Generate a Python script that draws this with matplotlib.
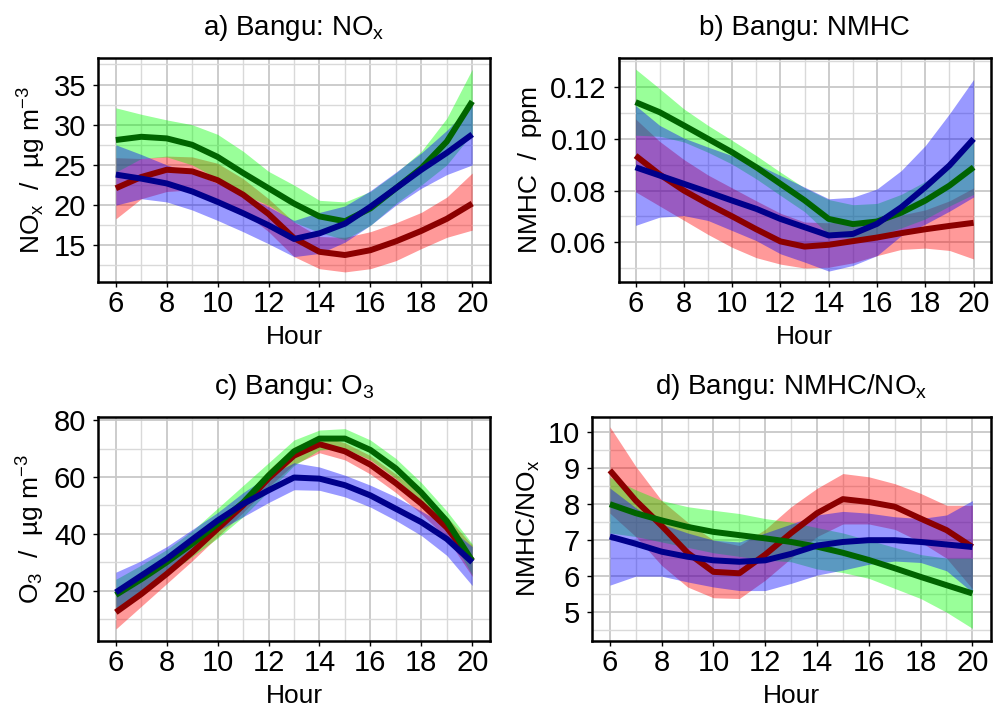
import numpy as np
import matplotlib
matplotlib.use('Agg')
import matplotlib.pyplot as plt
from matplotlib.ticker import MultipleLocator, FormatStrFormatter

plt.rcParams['font.family'] = ['Liberation Sans', 'DejaVu Sans']
plt.rcParams['mathtext.fontset'] = 'custom'
plt.rcParams['mathtext.rm'] = 'Liberation Sans'
plt.rcParams['mathtext.it'] = 'Liberation Sans:italic'
plt.rcParams['mathtext.bf'] = 'Liberation Sans:bold'

hours = list(range(6, 21))

# a) NOx
nox_red = [22.1, 23.5, 24.4, 24.2, 23.1, 21.3, 18.9, 15.9, 14.2, 13.8, 14.4, 15.5, 16.8, 18.3, 20.2]
nox_red_lo = [18.3, 20.8, 21.7, 21.9, 20.8, 19.2, 16.7, 13.6, 12.1, 11.7, 12.1, 13.1, 14.6, 16.0, 16.9]
nox_red_hi = [25.9, 25.8, 26.1, 26.0, 25.2, 23.3, 20.8, 17.9, 16.1, 16.0, 16.7, 17.8, 19.1, 21.0, 24.0]
nox_green = [28.1, 28.5, 28.3, 27.5, 26.0, 24.0, 22.1, 20.2, 18.6, 18.0, 19.6, 22.1, 24.6, 27.9, 32.9]
nox_green_lo = [24.1, 25.8, 26.0, 25.0, 23.3, 21.3, 20.0, 17.9, 16.6, 15.7, 17.5, 20.2, 22.5, 25.0, 28.9]
nox_green_hi = [32.1, 31.3, 30.6, 30.0, 28.8, 26.7, 24.2, 22.5, 20.6, 20.4, 21.7, 24.0, 26.7, 30.8, 36.9]
nox_blue = [23.8, 23.3, 22.7, 21.7, 20.4, 19.0, 17.5, 15.8, 16.5, 17.7, 19.8, 22.1, 24.4, 26.5, 28.8]
nox_blue_lo = [20.0, 20.8, 20.4, 19.4, 18.1, 16.7, 15.2, 13.6, 14.0, 15.4, 17.5, 20.0, 22.1, 23.8, 25.0]
nox_blue_hi = [27.5, 26.3, 25.0, 24.0, 22.7, 21.3, 19.8, 18.1, 19.1, 19.9, 21.8, 24.1, 26.5, 29.3, 32.5]

# b) NMHC
nmhc_red = [0.0935, 0.0862, 0.0800, 0.0748, 0.0700, 0.0650, 0.0603, 0.0583, 0.0590, 0.0604, 0.0618, 0.0635, 0.0650, 0.0663, 0.0675]
nmhc_red_lo = [0.0795, 0.0740, 0.0685, 0.0630, 0.0580, 0.0540, 0.0515, 0.0500, 0.0503, 0.0520, 0.0548, 0.0572, 0.0577, 0.0568, 0.0535]
nmhc_red_hi = [0.1077, 0.0990, 0.0920, 0.0860, 0.0810, 0.0760, 0.0712, 0.0678, 0.0675, 0.0680, 0.0690, 0.0705, 0.0725, 0.0760, 0.0810]
nmhc_green = [0.1142, 0.1103, 0.1052, 0.1000, 0.0948, 0.0890, 0.0826, 0.0762, 0.0690, 0.0670, 0.0680, 0.0714, 0.0761, 0.0819, 0.0890]
nmhc_green_lo = [0.1014, 0.1010, 0.0988, 0.0948, 0.0902, 0.0845, 0.0781, 0.0718, 0.0630, 0.0612, 0.0625, 0.0655, 0.0690, 0.0740, 0.0785]
nmhc_green_hi = [0.1270, 0.1194, 0.1116, 0.1052, 0.0994, 0.0935, 0.0871, 0.0810, 0.0765, 0.0745, 0.0750, 0.0785, 0.0835, 0.0895, 0.1000]
nmhc_blue = [0.0890, 0.0858, 0.0826, 0.0794, 0.0761, 0.0729, 0.0690, 0.0658, 0.0626, 0.0632, 0.0671, 0.0735, 0.0813, 0.0897, 0.1000]
nmhc_blue_lo = [0.0665, 0.0697, 0.0703, 0.0684, 0.0645, 0.0606, 0.0555, 0.0523, 0.0488, 0.0510, 0.0548, 0.0625, 0.0670, 0.0720, 0.0775]
nmhc_blue_hi = [0.1129, 0.1052, 0.1003, 0.0968, 0.0935, 0.0903, 0.0858, 0.0813, 0.0768, 0.0774, 0.0806, 0.0877, 0.0974, 0.1097, 0.1230]

# c) O3
o3_red = [12.4, 18.8, 25.9, 33.5, 41.8, 50.0, 59.5, 67.5, 71.5, 69.0, 64.3, 57.8, 50.6, 42.2, 30.5]
o3_red_lo = [6.5, 14.5, 22.5, 30.5, 39.0, 47.5, 56.5, 64.5, 68.5, 66.0, 61.0, 54.5, 47.0, 38.5, 25.0]
o3_red_hi = [18.0, 23.0, 29.5, 36.5, 44.5, 52.5, 62.5, 70.5, 74.5, 72.0, 67.5, 61.0, 54.0, 46.0, 36.0]
o3_green = [18.5, 24.0, 30.0, 36.5, 43.5, 51.0, 60.5, 69.0, 73.5, 73.5, 69.5, 63.0, 54.5, 44.5, 30.5]
o3_green_lo = [13.0, 19.0, 25.5, 32.0, 38.5, 46.0, 55.0, 64.0, 69.5, 70.0, 66.0, 59.5, 51.0, 41.0, 25.5]
o3_green_hi = [24.0, 29.0, 34.5, 41.0, 49.0, 57.0, 65.0, 73.0, 76.5, 77.0, 73.0, 66.5, 58.0, 48.0, 36.5]
o3_blue = [19.4, 25.3, 31.2, 38.0, 44.7, 50.5, 55.3, 59.8, 59.4, 57.1, 53.5, 48.8, 44.1, 38.2, 30.0]
o3_blue_lo = [13.0, 20.0, 27.0, 34.0, 41.0, 46.0, 51.0, 55.5, 55.3, 53.0, 49.4, 44.7, 39.4, 32.4, 21.8]
o3_blue_hi = [26.5, 30.5, 35.5, 41.5, 47.5, 54.5, 60.5, 65.0, 63.5, 60.6, 57.1, 53.0, 48.0, 42.8, 35.5]

# d) NMHC/NOx
ratio_red = [8.94, 8.10, 7.40, 6.65, 6.12, 6.08, 6.60, 7.20, 7.75, 8.14, 8.06, 7.93, 7.60, 7.28, 6.81]
ratio_red_lo = [7.75, 7.10, 6.30, 5.70, 5.40, 5.38, 5.89, 6.50, 7.10, 7.45, 7.45, 7.30, 6.95, 6.50, 5.65]
ratio_red_hi = [10.15, 9.05, 8.10, 7.50, 7.00, 6.85, 7.30, 7.93, 8.44, 8.85, 8.76, 8.57, 8.30, 7.97, 7.97]
ratio_green = [8.00, 7.75, 7.55, 7.37, 7.23, 7.14, 7.05, 6.95, 6.82, 6.65, 6.45, 6.22, 5.98, 5.75, 5.52]
ratio_green_lo = [7.20, 7.10, 6.95, 6.80, 6.65, 6.55, 6.45, 6.40, 6.20, 6.10, 5.94, 5.66, 5.38, 5.00, 4.55]
ratio_green_hi = [8.75, 8.40, 8.10, 7.93, 7.83, 7.74, 7.60, 7.50, 7.35, 7.20, 7.00, 6.80, 6.60, 6.50, 6.50]
ratio_blue = [7.10, 6.90, 6.68, 6.54, 6.44, 6.40, 6.44, 6.62, 6.85, 6.95, 7.00, 7.00, 6.95, 6.88, 6.81]
ratio_blue_lo = [5.75, 6.00, 6.00, 5.84, 5.70, 5.60, 5.60, 5.80, 6.03, 6.17, 6.33, 6.42, 6.38, 6.15, 5.55]
ratio_blue_hi = [8.45, 7.90, 7.45, 7.20, 7.00, 6.95, 7.20, 7.45, 7.70, 7.80, 7.75, 7.65, 7.60, 7.70, 8.10]

fills = ['#FF0000', '#00FF00', '#0000FF']
lines = ['#8B0000', '#006400', '#00008B']

fig = plt.figure(figsize=(9.93, 7.06), dpi=100)

panels = [
    ([0.0987, 0.6006, 0.3948, 0.3173], 'a) Bangu: NO$_\\mathrm{x}$',
     'NO$_\\mathrm{x}$  /  µg m$^{\\mathrm{-3}}$', (10.45, 38.3), 5, 2.5, None, -0.169,
     [(nox_red, nox_red_lo, nox_red_hi), (nox_green, nox_green_lo, nox_green_hi),
      (nox_blue, nox_blue_lo, nox_blue_hi)]),
    ([0.6230, 0.6006, 0.3745, 0.3173], 'b) Bangu: NMHC',
     'NMHC  /  ppm', (0.0446, 0.1313), 0.02, 0.01, '%.2f', -0.238,
     [(nmhc_red, nmhc_red_lo, nmhc_red_hi), (nmhc_green, nmhc_green_lo, nmhc_green_hi),
      (nmhc_blue, nmhc_blue_lo, nmhc_blue_hi)]),
    ([0.0987, 0.0921, 0.3948, 0.3177], 'c) Bangu: O$_\\mathrm{3}$',
     'O$_\\mathrm{3}$  /  µg m$^{\\mathrm{-3}}$', (2.3, 81.2), 20, 10, None, -0.171,
     [(o3_red, o3_red_lo, o3_red_hi), (o3_green, o3_green_lo, o3_green_hi),
      (o3_blue, o3_blue_lo, o3_blue_hi)]),
    ([0.5959, 0.0921, 0.4016, 0.3177], 'd) Bangu: NMHC/NO$_\\mathrm{x}$',
     'NMHC/NO$_\\mathrm{x}$', (4.2, 10.43), 1, 0.5, None, -0.159,
     [(ratio_red, ratio_red_lo, ratio_red_hi), (ratio_green, ratio_green_lo, ratio_green_hi),
      (ratio_blue, ratio_blue_lo, ratio_blue_hi)]),
]

for rect, title, ylabel, ylim, major, minor, fmt, ylab_x, series in panels:
    ax = fig.add_axes(rect)
    for (mid, lo, hi), fc, lc in zip(series, fills, lines):
        ax.fill_between(hours, lo, hi, color=fc, alpha=0.4, lw=0)
        ax.plot(hours, mid, color=lc, lw=4.3, solid_capstyle='butt',
                solid_joinstyle='round')
    ax.set_xlim(5.3, 20.7)
    ax.set_ylim(*ylim)
    ax.xaxis.set_major_locator(MultipleLocator(2))
    ax.xaxis.set_minor_locator(MultipleLocator(1))
    ax.yaxis.set_major_locator(MultipleLocator(major))
    ax.yaxis.set_minor_locator(MultipleLocator(minor))
    if fmt:
        ax.yaxis.set_major_formatter(FormatStrFormatter(fmt))
    ax.set_axisbelow(True)
    ax.grid(which='major', color='#c8c8c8', lw=1.3)
    ax.grid(which='minor', color='#d9d9d9', lw=1.0)
    ax.tick_params(which='major', direction='out', length=3.5, width=1.0,
                   labelsize=21, colors='black')
    ax.tick_params(axis='x', which='major', pad=2)
    ax.tick_params(axis='y', which='major', pad=5)
    ax.tick_params(which='minor', length=0)
    for sp in ax.spines.values():
        sp.set_linewidth(1.8)
        sp.set_color('black')
    ax.set_xlabel('Hour', fontsize=19, va='center')
    ax.xaxis.set_label_coords(0.5, -0.245)
    ax.set_ylabel(ylabel, fontsize=19, va='center')
    ax.yaxis.set_label_coords(ylab_x, 0.5)
    ax.text(0.5, 1.103, title, transform=ax.transAxes, ha='center',
            va='baseline', fontsize=20)

fig.savefig('out.png', dpi=100)
